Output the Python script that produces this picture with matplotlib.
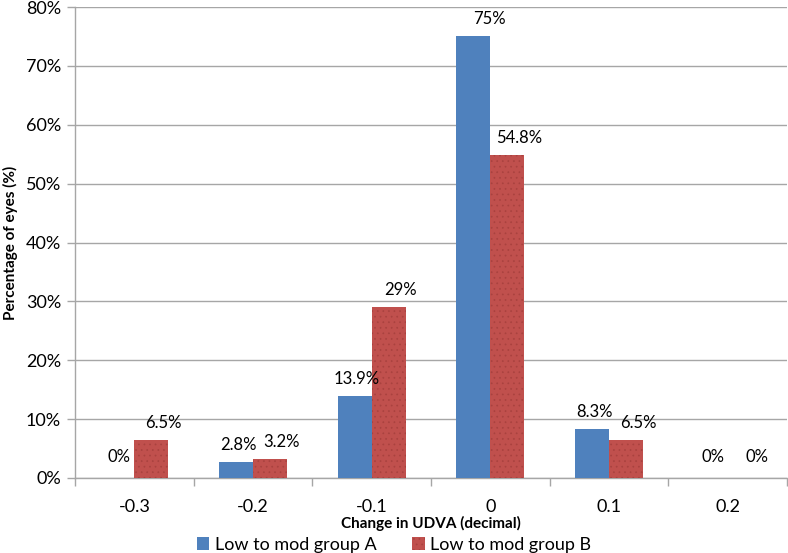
import matplotlib
matplotlib.use("Agg")
import matplotlib.pyplot as plt
import numpy as np

categories = ["-0.3", "-0.2", "-0.1", "0", "0.1", "0.2"]
group_a = [0, 2.8, 13.9, 75, 8.3, 0]
group_b = [6.5, 3.2, 29, 54.8, 6.5, 0]
labels_a = ["0%", "2.8%", "13.9%", "75%", "8.3%", "0%"]
labels_b = ["6.5%", "3.2%", "29%", "54.8%", "6.5%", "0%"]
series_names = ["Low to mod group A", "Low to mod group B"]
yticks = [0, 10, 20, 30, 40, 50, 60, 70, 80]

plt.rcParams['font.family'] = ['Lato', 'DejaVu Sans']
plt.rcParams['hatch.linewidth'] = 0.5

fig = plt.figure(figsize=(7.88, 5.53), dpi=100)
ax = fig.add_axes([75/788, 75/553, 712/788, 471/553])

blue = "#4F81BD"
red = "#C0504D"
x = np.arange(len(categories))
w = 0.286
ba = ax.bar(x - w/2, group_a, w, color=blue, linewidth=0, zorder=3, label=series_names[0])
bb = ax.bar(x + w/2, group_b, w, color=red, linewidth=0, zorder=3, label=series_names[1],
            hatch='...', edgecolor='#A9423F')

for xi, v, lab in zip(x, group_a, labels_a):
    off = 21 if v == 0 else 17
    dx = 16 if lab == "75%" else 2
    ax.annotate(lab, (xi - w/2, v), xytext=(dx, off), textcoords='offset pixels',
                ha='center', va='center', fontsize=12, color='black', zorder=4)
for xi, v, lab in zip(x, group_b, labels_b):
    off = 21 if v == 0 else 17
    ax.annotate(lab, (xi + w/2, v), xytext=(12, off), textcoords='offset pixels',
                ha='center', va='center', fontsize=12, color='black', zorder=4)

ax.set_xlim(-0.5, len(categories) - 0.5)
ax.set_ylim(0, 80)
ax.set_yticks(yticks)
ax.set_yticklabels([f"{t}%" for t in yticks], fontsize=13)
ax.yaxis.grid(True, color='#A6A6A6', linewidth=1.0, zorder=0)
ax.set_axisbelow(True)

ax.set_xticks(x)
ax.set_xticklabels(categories, fontsize=13)
ax.set_xticks(np.arange(len(categories) + 1) - 0.5, minor=True)
ax.tick_params(axis='x', which='major', length=0, pad=15)
ax.tick_params(axis='x', which='minor', length=6, color='#A6A6A6', width=1)
ax.tick_params(axis='y', length=6, color='#A6A6A6', width=1, pad=4)

for s in ['top', 'right']:
    ax.spines[s].set_visible(False)
for s in ['left', 'bottom']:
    ax.spines[s].set_color('#A6A6A6')
    ax.spines[s].set_linewidth(1.0)

ax.set_xlabel("Change in UDVA (decimal)", fontsize=11, fontweight='bold', labelpad=1)
ax.set_ylabel("Percentage of eyes (%)", fontsize=11, fontweight='bold', labelpad=6)

fig.legend(handles=[ba, bb], loc='center', bbox_to_anchor=(0.5, 8/553), ncol=2,
           frameon=False, fontsize=13, handlelength=0.7, handleheight=0.7,
           handletextpad=0.3, columnspacing=2.0, borderaxespad=0)

fig.savefig("out.png", dpi=100)
